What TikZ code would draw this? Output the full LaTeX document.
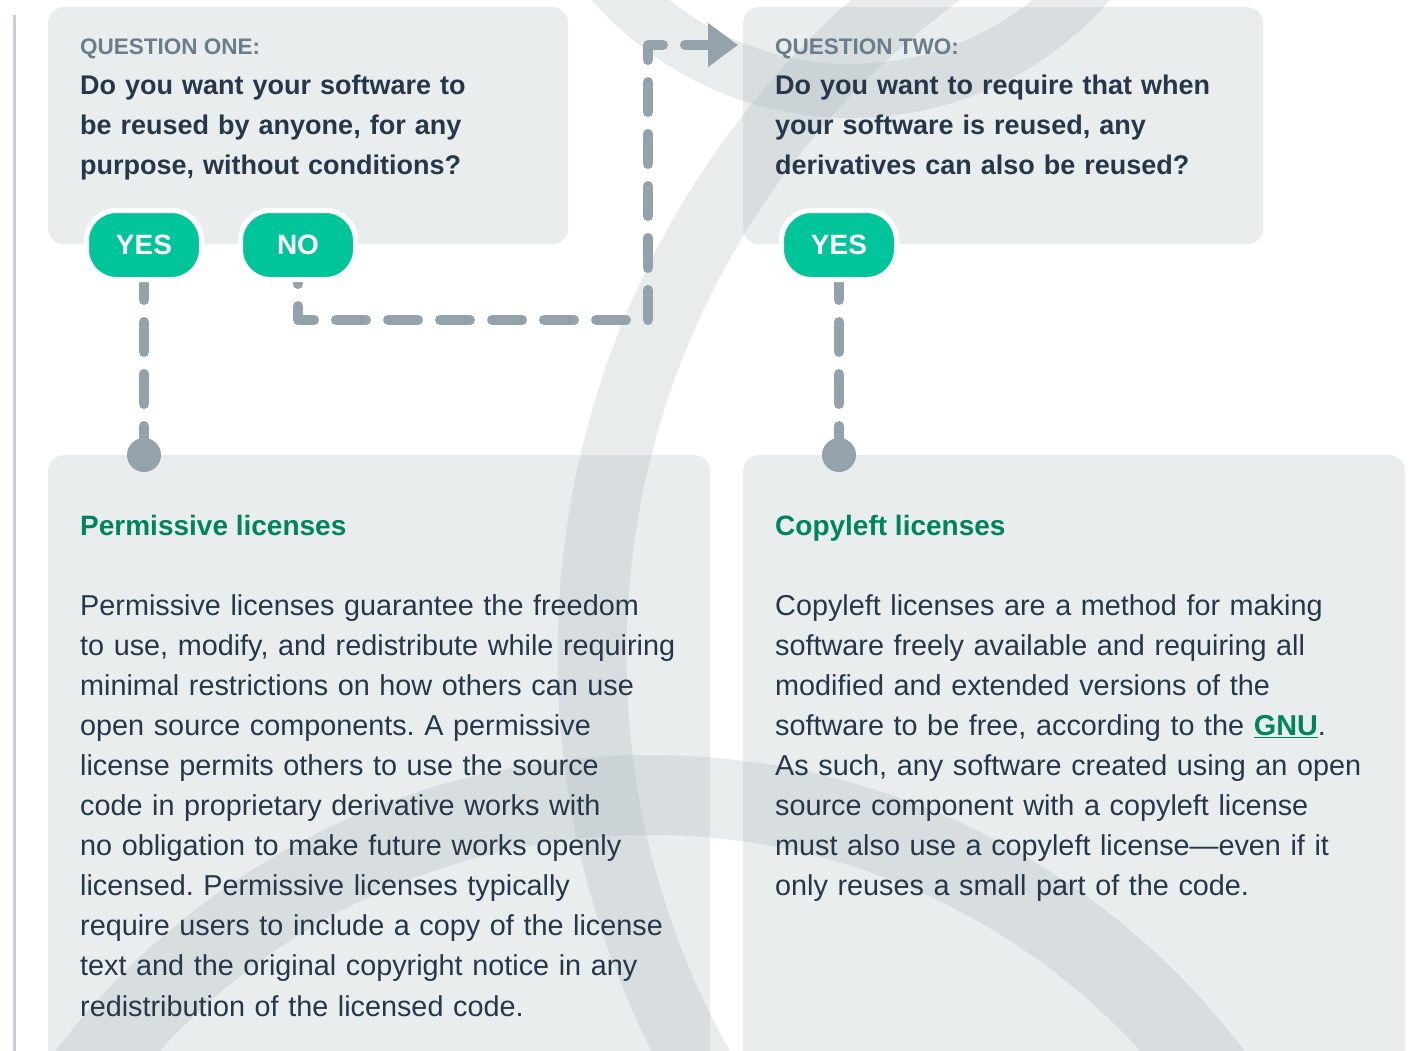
\documentclass[tikz,border=0pt]{standalone}
\usepackage{fontspec}
\setmainfont{Liberation Sans}
\usepackage{xcolor}
\usetikzlibrary{positioning, arrows.meta, calc}
\frenchspacing

\definecolor{boxgray}{HTML}{E9EDEE}
\definecolor{inkdark}{HTML}{27374A}
\definecolor{labelgray}{HTML}{6B7D8A}
\definecolor{licgreen}{HTML}{00845F}
\definecolor{btngreen}{HTML}{00C49A}
\definecolor{dashgray}{HTML}{94A3AB}
\definecolor{bandgray}{RGB}{167,180,186}
\definecolor{railgray}{HTML}{C8D0D6}

\tikzset{
  qbox/.style={fill=boxgray, rounded corners=16pt, minimum width=520pt, minimum height=237pt, inner sep=0pt, anchor=north west},
  licbox/.style={fill=boxgray, rounded corners=16pt, minimum width=662pt, minimum height=660pt, inner sep=0pt, anchor=north west},
  qlabel/.style={font=\fontsize{22.5}{27}\selectfont\bfseries, text=labelgray, inner sep=0pt},
  qtext/.style={font=\fontsize{27}{40}\selectfont\bfseries, text=inkdark, inner sep=0pt, text width=520pt, align=left},
  lichead/.style={font=\fontsize{28}{32}\selectfont\bfseries, text=licgreen, inner sep=0pt},
  lictext/.style={font=\fontsize{28.8}{40.1}\selectfont, text=inkdark, inner sep=0pt, text width=700pt, align=left},
  answer/.style={fill=btngreen, draw=white, line width=5pt, rounded corners=30pt, minimum width=115pt, minimum height=69pt, inner sep=0pt, text=white, font=\fontsize{28}{30}\selectfont\bfseries},
  pin/.style={circle, fill=dashgray, minimum size=34pt, inner sep=0pt},
  flow/.style={draw=dashgray, line width=10pt, line cap=round, line join=round, dash pattern=on 30pt off 22pt},
  band/.style={draw=bandgray, draw opacity=0.25},
}

\begin{document}
\begin{tikzpicture}[x=1pt, y=-1pt]
  \useasboundingbox (0,0) rectangle (1410,1051);
  \fill[white] (0,0) rectangle (1410,1051);

  % side rail
  \draw[railgray, line width=3pt] (14,15) -- (14,1051);

  % boxes
  \node[qbox] (q1) at (48,7) {};
  \node[qbox] (q2) at (743,7) {};
  \node[licbox] (perm) at (48,455) {};
  \node[licbox] (copy) at (743,455) {};

  % background arcs
  \draw[band, line width=69pt] (1436,655) circle (844);
  \draw[band, line width=54pt] (851,-225) circle (316);
  \draw[band, line width=80pt] (650,1500) circle (705);

  % question one
  \node[qlabel, below right=48pt and 32pt of q1.north west, anchor=base west] (q1lab) {QUESTION ONE:};
  \node[qtext, below right=88pt and 32pt of q1.north west, anchor=base west] (q1txt)
    {Do you want your software to\\be reused by anyone, for any\\purpose, without conditions?};

  % question two
  \node[qlabel, below right=48pt and 32pt of q2.north west, anchor=base west] (q2lab) {QUESTION TWO:};
  \node[qtext, below right=88pt and 32pt of q2.north west, anchor=base west] (q2txt)
    {Do you want to require that when\\your software is reused, any\\derivatives can also be reused?};

  % permissive
  \node[lichead, below right=80pt and 32pt of perm.north west, anchor=base west] (permhead) {Permissive licenses};
  \node[lictext, below right=160pt and 32pt of perm.north west, anchor=base west] (permtxt)
    {Permissive licenses guarantee the freedom\\
     to use, modify, and redistribute while requiring\\
     minimal restrictions on how others can use\\
     open source components. A permissive\\
     license permits others to use the source\\
     code in proprietary derivative works with\\
     no obligation to make future works openly\\
     licensed. Permissive licenses typically\\
     require users to include a copy of the license\\
     text and the original copyright notice in any\\
     redistribution of the licensed code.};

  % copyleft
  \node[lichead, below right=80pt and 32pt of copy.north west, anchor=base west] (copyhead) {Copyleft licenses};
  \node[lictext, below right=160pt and 32pt of copy.north west, anchor=base west] (copytxt)
    {Copyleft licenses are a method for making\\
     software freely available and requiring all\\
     modified and extended versions of the\\
     software to be free, according to the \textcolor{licgreen}{\textbf{\underline{GNU}}}.\\
     As such, any software created using an open\\
     source component with a copyleft license\\
     must also use a copyleft license—even if it\\
     only reuses a small part of the code.};

  % answers
  \node[answer] (yes1) at (144,245) {YES};
  \node[answer] (no1) at (298,245) {NO};
  \node[answer] (yes2) at (839,245) {YES};

  \node[pin] (permpin) at (yes1 |- perm.north) {};
  \node[pin] (copypin) at (yes2 |- copy.north) {};

  \coordinate (noturn) at (648,320);
  \coordinate (q2in) at (738,45);

  % connectors
  \draw[flow, dash phase=12pt] (yes1) -- (permpin);
  \draw[flow, dash phase=12pt] (yes2) -- (copypin);
  \draw[flow, dash phase=28pt, -{Triangle[length=30pt, width=42pt]}] (no1) |- (noturn) |- (q2in);

  % answers on top of the lines
  \node[answer] at (yes1) {YES};
  \node[answer] at (no1) {NO};
  \node[answer] at (yes2) {YES};
\end{tikzpicture}
\end{document}
